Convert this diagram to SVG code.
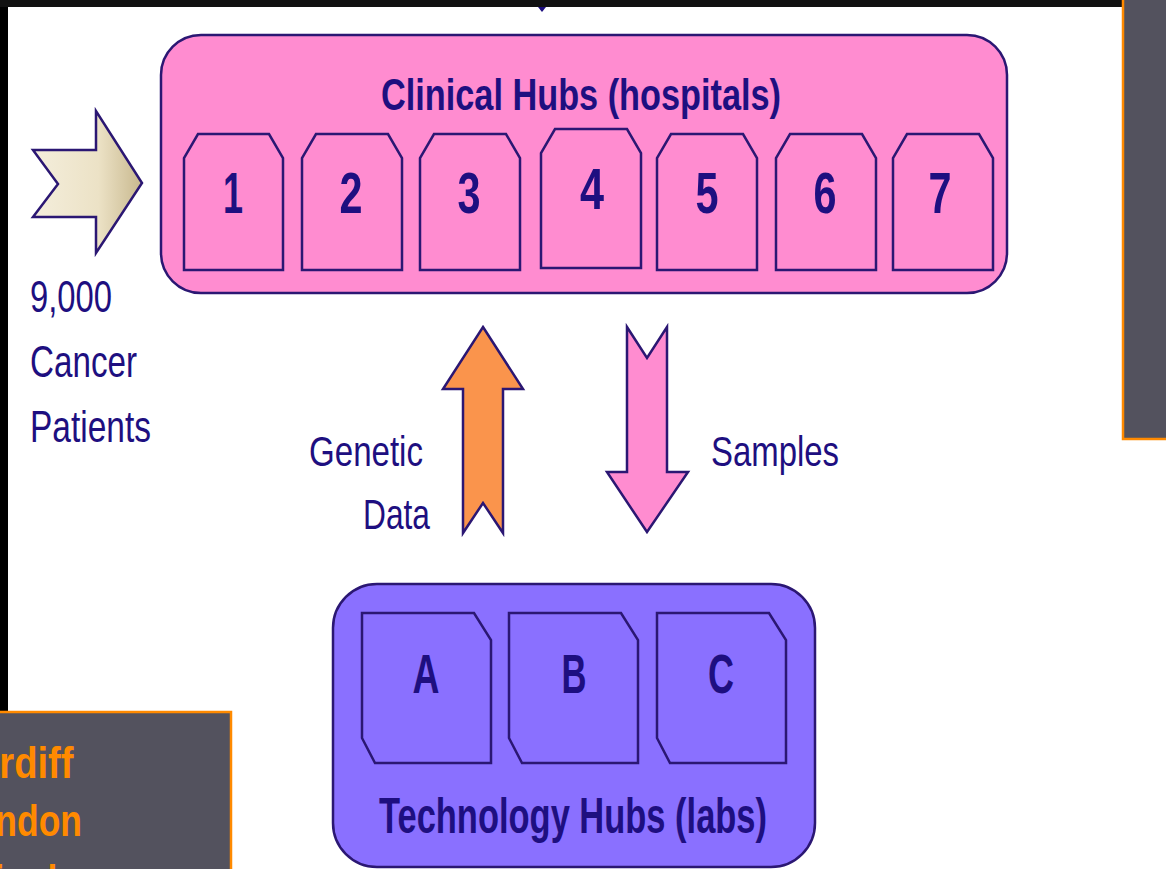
<svg xmlns="http://www.w3.org/2000/svg" width="1166" height="869" viewBox="0 0 1166 869">
<defs>
<linearGradient id="beige" x1="0" y1="0" x2="1" y2="0">
<stop offset="0" stop-color="#f4eedc"/>
<stop offset="0.6" stop-color="#ece2c6"/>
<stop offset="1" stop-color="#c8b88e"/>
</linearGradient>
<style>
.hub{fill:#ff8cd0;stroke:#2b1773;stroke-width:2.5}
.tech{fill:#8a70ff;stroke:#2b1773;stroke-width:2.5}
.box{stroke:#2b1773;stroke-width:2.5}
.b{font-family:"Liberation Sans",Arial,sans-serif;font-weight:bold;fill:#1e0f80}
.r{font-family:"Liberation Sans",Arial,sans-serif;fill:#1e0f80}
.city{font-family:"Liberation Sans",Arial,sans-serif;font-weight:bold;fill:#ff8a00;font-size:44px}
.ar{stroke:#2b1773;stroke-width:2.5;stroke-linejoin:miter}
</style>
</defs>
<rect x="0" y="0" width="1166" height="869" fill="#000"/>
<rect x="0" y="0" width="1166" height="7" fill="#111"/>
<rect x="8" y="7" width="1158" height="862" fill="#fff"/>
<path d="M538,7 L546,7 L542,12 Z" fill="#1e0f80"/>

<g id="clinical-hubs">
<rect class="hub" x="161" y="35" width="846" height="258" rx="40" ry="40"/>
<text class="b" x="581" y="110" font-size="45" text-anchor="middle" textLength="400" lengthAdjust="spacingAndGlyphs">Clinical Hubs (hospitals)</text>
</g>
<g id="hub-1"><path class="box" fill="#ff8cd0" d="M198,134 L269,134 L283,158 L283,270 L184,270 L184,158 Z"/><text class="b" x="233" y="213" font-size="58" text-anchor="middle" textLength="20" lengthAdjust="spacingAndGlyphs">1</text></g>
<g id="hub-2"><path class="box" fill="#ff8cd0" d="M316,134 L388,134 L402,158 L402,270 L302,270 L302,158 Z"/><text class="b" x="351" y="213" font-size="58" text-anchor="middle" textLength="23" lengthAdjust="spacingAndGlyphs">2</text></g>
<g id="hub-3"><path class="box" fill="#ff8cd0" d="M434,134 L506,134 L520,158 L520,270 L420,270 L420,158 Z"/><text class="b" x="469" y="213" font-size="58" text-anchor="middle" textLength="23" lengthAdjust="spacingAndGlyphs">3</text></g>
<g id="hub-4"><path class="box" fill="#ff8cd0" d="M555,129 L627,129 L641,153 L641,268 L541,268 L541,153 Z"/><text class="b" x="592" y="209" font-size="58" text-anchor="middle" textLength="24" lengthAdjust="spacingAndGlyphs">4</text></g>
<g id="hub-5"><path class="box" fill="#ff8cd0" d="M671,134 L743,134 L757,158 L757,270 L657,270 L657,158 Z"/><text class="b" x="707" y="213" font-size="58" text-anchor="middle" textLength="23" lengthAdjust="spacingAndGlyphs">5</text></g>
<g id="hub-6"><path class="box" fill="#ff8cd0" d="M790,134 L862,134 L876,158 L876,270 L776,270 L776,158 Z"/><text class="b" x="825" y="213" font-size="58" text-anchor="middle" textLength="23" lengthAdjust="spacingAndGlyphs">6</text></g>
<g id="hub-7"><path class="box" fill="#ff8cd0" d="M907,134 L979,134 L993,158 L993,270 L893,270 L893,158 Z"/><text class="b" x="940" y="213" font-size="58" text-anchor="middle" textLength="23" lengthAdjust="spacingAndGlyphs">7</text></g>

<g id="patients">
<path class="ar" fill="url(#beige)" d="M33,150 L96,150 L96,111 L142,183 L96,253 L96,217 L33,217 L58,184 Z"/>
<text class="r" x="30" y="312" font-size="44" textLength="82" lengthAdjust="spacingAndGlyphs">9,000</text>
<text class="r" x="30" y="377" font-size="44" textLength="107" lengthAdjust="spacingAndGlyphs">Cancer</text>
<text class="r" x="30" y="442" font-size="44" textLength="121" lengthAdjust="spacingAndGlyphs">Patients</text>
</g>

<g id="connectors">
<path class="ar" fill="#fa944c" d="M483,327 L523,389 L503,389 L503,533 L483,503 L463,533 L463,389 L443,389 Z"/>
<path class="ar" fill="#ff8cd0" d="M627,327 L647,358 L667,327 L667,472 L688,472 L647,532 L607,472 L627,472 Z"/>
<text class="r" x="423" y="466" font-size="42" text-anchor="end" textLength="114" lengthAdjust="spacingAndGlyphs">Genetic</text>
<text class="r" x="430" y="529" font-size="42" text-anchor="end" textLength="67" lengthAdjust="spacingAndGlyphs">Data</text>
<text class="r" x="711" y="466" font-size="42" textLength="128" lengthAdjust="spacingAndGlyphs">Samples</text>
</g>

<g id="technology-hubs">
<rect class="tech" x="333" y="584" width="482" height="283" rx="44" ry="44"/>
<text class="b" x="573" y="833" font-size="50" text-anchor="middle" textLength="388" lengthAdjust="spacingAndGlyphs">Technology Hubs (labs)</text>
</g>
<g id="lab-a"><path class="box" fill="#8a70ff" d="M362,613 L474,613 L491,640 L491,763 L375,763 L362,738 Z"/><text class="b" x="426" y="693" font-size="56" text-anchor="middle" textLength="27" lengthAdjust="spacingAndGlyphs">A</text></g>
<g id="lab-b"><path class="box" fill="#8a70ff" d="M509,613 L621,613 L638,640 L638,763 L522,763 L509,738 Z"/><text class="b" x="574" y="693" font-size="56" text-anchor="middle" textLength="25" lengthAdjust="spacingAndGlyphs">B</text></g>
<g id="lab-c"><path class="box" fill="#8a70ff" d="M657,613 L769,613 L786,640 L786,763 L670,763 L657,738 Z"/><text class="b" x="721" y="693" font-size="56" text-anchor="middle" textLength="26" lengthAdjust="spacingAndGlyphs">C</text></g>

<g id="panel-right">
<rect x="1123" y="-4" width="50" height="443" fill="#53525e" stroke="#ff8a00" stroke-width="2.5"/>
</g>
<g id="panel-cities">
<rect x="-4" y="712" width="235" height="170" fill="#53525e" stroke="#ff8a00" stroke-width="2.5"/>
<text class="city" x="12" y="778" text-anchor="middle" textLength="123" lengthAdjust="spacingAndGlyphs">Cardiff</text>
<text class="city" x="17" y="836" text-anchor="middle" textLength="130" lengthAdjust="spacingAndGlyphs">London</text>
<text class="city" x="17" y="896" text-anchor="middle" textLength="206" lengthAdjust="spacingAndGlyphs">Birmingham</text>
</g>
</svg>
